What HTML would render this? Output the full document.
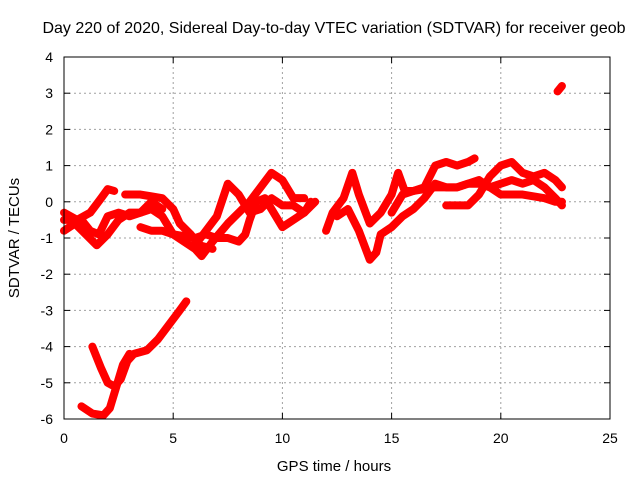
<!DOCTYPE html>
<html><head><meta charset="utf-8"><style>
body{margin:0;background:#fff;}
svg text{font-family:"Liberation Sans",sans-serif;font-size:14px;fill:#000;}
</style></head><body>
<svg id="c" width="640" height="480">
<rect width="640" height="480" fill="#fff"/>
<text x="334" y="33" text-anchor="middle" style="font-size:16px">Day 220 of 2020, Sidereal Day-to-day VTEC variation (SDTVAR) for receiver geob</text>
<g id="grid"></g>
<g id="ticks"></g>
<g id="series"></g>
<rect x="64" y="57" width="546" height="362" fill="none" stroke="#000"/>
<text x="334" y="471" text-anchor="middle" style="font-size:15px">GPS time / hours</text>
<text transform="translate(19,238) rotate(-90)" text-anchor="middle" style="font-size:15px">SDTVAR / TECUs</text>
</svg>
<script>
const xTicks=[0,5,10,15,20,25];
const yTicks=[4,3,2,1,0,-1,-2,-3,-4,-5,-6];
const track1=[[0,-0.3],[0.6,-0.5],[1.2,-0.3],[1.7,0.1],[2.0,0.35],[2.3,0.3]];
const track2=[[0,-0.8],[0.5,-0.6],[1,-0.9],[1.5,-1.2],[2,-0.9],[2.5,-0.5],[3,-0.3],[3.5,-0.3],[4,-0.2],[4.5,-0.4],[5,-0.9],[5.5,-1.1],[6,-1.3],[6.3,-1.5],[6.8,-1.1],[7.5,-0.6],[8,-0.3],[8.5,0],[9,0.4],[9.5,0.8],[10,0.6],[10.5,0.1],[11,0.1]];
const track3=[[0,-0.5],[0.8,-0.5],[1.2,-0.8],[1.6,-0.9],[2,-0.4],[2.5,-0.3],[3,-0.4],[3.5,-0.3],[4,0.0],[4.5,-0.2]];
const track4=[[2.8,0.2],[3.5,0.2],[4,0.15],[4.5,0.1],[5,-0.2],[5.3,-0.6],[5.8,-0.9],[6.2,-1.2],[6.8,-1.3]];
const track5=[[3.5,-0.7],[4,-0.8],[4.5,-0.8],[5,-0.9],[6,-1.0],[6.5,-0.9],[7,-1.0],[7.5,-1.0],[8,-1.1],[8.3,-0.9],[8.5,-0.5],[8.8,0],[9.2,0.1],[9.6,-0.3],[10,-0.7],[10.5,-0.5],[11,-0.3],[11.5,0]];
const track6=[[6,-1.2],[6.5,-0.8],[7,-0.4],[7.5,0.5],[8,0.2],[8.5,-0.3],[9,-0.2],[9.5,0.1],[10,-0.1],[10.5,-0.1],[11,-0.3],[11.3,0]];
const track7=[[12,-0.8],[12.3,-0.3],[12.8,0.1],[13.2,0.8],[13.5,0.2],[14,-0.6],[14.5,-0.3],[15,0.2],[15.3,0.8],[15.6,0.3],[16,0.3],[16.5,0.4],[17,1.0],[17.5,1.1],[18,1.0],[18.5,1.1],[18.8,1.2]];
const track8=[[12.5,-0.4],[13,-0.2],[13.5,-0.8],[14,-1.6],[14.3,-1.4],[14.5,-0.9],[15,-0.7],[15.5,-0.4],[16,-0.2],[16.5,0.1],[17,0.5],[17.5,0.4],[18,0.4],[18.5,0.5],[19,0.5],[19.5,0.4],[20,0.5],[20.5,0.6],[21,0.5],[21.5,0.6],[22,0.4],[22.5,0.1],[22.8,-0.1]];
const track9=[[17.5,-0.1],[18,-0.1],[18.5,-0.1],[19,0.2],[19.5,0.7],[20,1.0],[20.5,1.1],[21,0.8],[21.5,0.7],[22,0.8],[22.5,0.6],[22.8,0.4]];
const track10=[[15,-0.3],[15.5,0.2],[16,0.3],[17,0.4],[18,0.4],[19,0.6],[19.5,0.4],[20,0.2],[21,0.2],[22,0.1],[22.5,0],[22.8,0]];
const track11=[[0.8,-5.65],[1.3,-5.85],[1.8,-5.9],[2.1,-5.7],[2.4,-5.1],[2.7,-4.5],[3,-4.2]];
const track12=[[1.3,-4.0],[1.7,-4.6],[2,-5.0],[2.3,-5.1],[2.6,-4.9],[2.9,-4.4],[3.2,-4.2],[3.8,-4.1],[4.3,-3.8],[4.8,-3.4],[5.3,-3.0],[5.6,-2.75]];
const track13=[[22.6,3.05],[22.8,3.2]];
const tracks=[track1,track2,track3,track4,track5,track6,track7,track8,track9,track10,track11,track12,track13];
const X=t=>64+t*546/25, Y=v=>57+(4-v)*362/10;
const NS='http://www.w3.org/2000/svg';
function mk(tag,attrs,parent){const e=document.createElementNS(NS,tag);for(const k in attrs)e.setAttribute(k,attrs[k]);parent.appendChild(e);return e;}
const grid=document.getElementById('grid'),ticks=document.getElementById('ticks'),series=document.getElementById('series');
xTicks.forEach(t=>{
 if(t>0&&t<25){const l=mk('line',{x1:X(t),x2:X(t),y1:57,y2:419,stroke:'#a0a0a0','stroke-dasharray':'2,3'},grid);}
 mk('line',{x1:X(t),x2:X(t),y1:419,y2:413,stroke:'#000'},ticks);mk('line',{x1:X(t),x2:X(t),y1:57,y2:63,stroke:'#000'},ticks);
 const tx=mk('text',{x:X(t),y:443,'text-anchor':'middle'},ticks);tx.textContent=t;
 
 
});
yTicks.forEach(v=>{
 if(v<4&&v>-6){const l=mk('line',{x1:64,x2:610,y1:Y(v),y2:Y(v),stroke:'#a0a0a0','stroke-dasharray':'2,3'},grid);}
 mk('line',{x1:64,x2:70,y1:Y(v),y2:Y(v),stroke:'#000'},ticks);mk('line',{x1:610,x2:604,y1:Y(v),y2:Y(v),stroke:'#000'},ticks);
 const tx=mk('text',{x:53,y:Y(v)+5,'text-anchor':'end'},ticks);tx.textContent=v;
 
 
});
tracks.forEach(tr=>{
 const p=mk('polyline',{points:tr.map(d=>X(d[0])+','+Y(d[1])).join(' '),fill:'none',stroke:'#f00','stroke-width':8,'stroke-linejoin':'round','stroke-linecap':'round'},series);
 
 
});
</script>
</body></html>
